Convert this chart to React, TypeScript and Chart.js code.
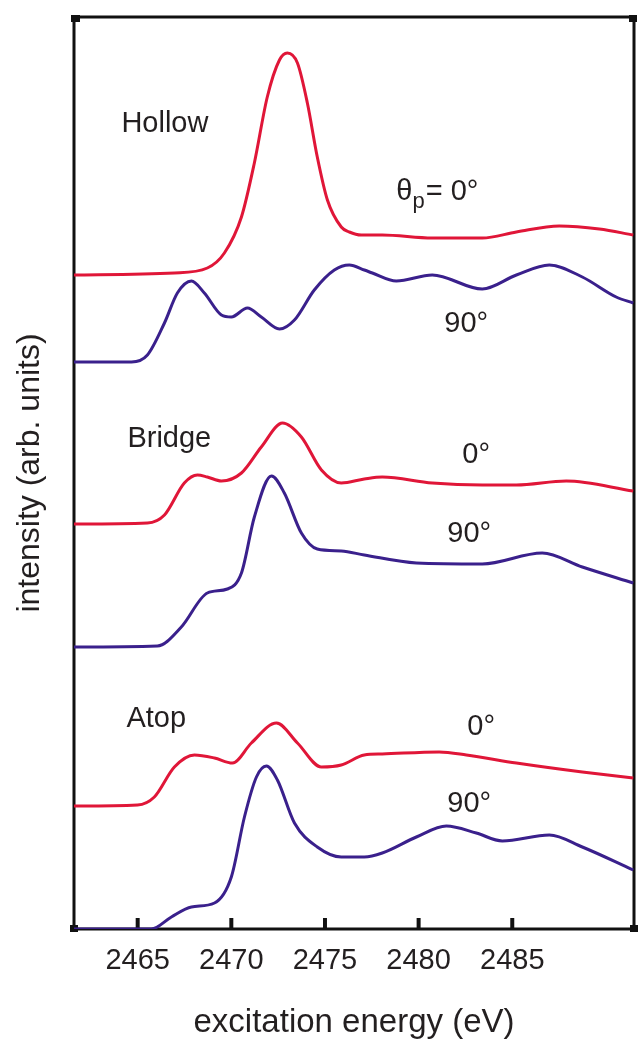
import { useEffect, useRef } from 'react';
import { Chart, registerables } from 'chart.js';

Chart.register(...registerables);

const RED = 'rgb(224, 22, 56)';
const BLUE = 'rgb(58, 32, 140)';
const TEXT = '#231f20';
const FAMILY = '"Liberation Sans", Arial, Helvetica, sans-serif';

// excitation energy (eV) / intensity (arb. units, stacked with offsets)
const hollow0E = [2461.6, 2466.96, 2468.72, 2469.63, 2470.54, 2471.23, 2471.92, 2472.57, 2472.99, 2473.53, 2474.06, 2474.59, 2475.13, 2475.87, 2476.3, 2476.94, 2478.06, 2480.73, 2483.4, 2485.22, 2487.51, 2489.65, 2491.46];
const hollow0I = [6.54, 6.56, 6.61, 6.76, 7.12, 7.66, 8.32, 8.69, 8.76, 8.66, 8.26, 7.72, 7.29, 7.02, 6.97, 6.94, 6.94, 6.91, 6.91, 6.97, 7.03, 7.0, 6.94];

const hollow90E = [2461.6, 2464.67, 2465.52, 2466.43, 2467.12, 2467.87, 2468.56, 2469.47, 2470.0, 2470.86, 2471.6, 2472.57, 2473.37, 2474.43, 2475.5, 2476.3, 2477.1, 2477.53, 2478.81, 2480.73, 2483.4, 2485.22, 2486.98, 2488.74, 2490.55, 2491.46];
const hollow90I = [5.67, 5.67, 5.74, 6.06, 6.36, 6.48, 6.36, 6.14, 6.12, 6.21, 6.12, 6.0, 6.09, 6.39, 6.59, 6.64, 6.59, 6.56, 6.48, 6.54, 6.4, 6.54, 6.64, 6.52, 6.32, 6.26];

const bridge0E = [2461.6, 2465.52, 2466.43, 2467.49, 2468.19, 2468.72, 2469.47, 2470.54, 2471.6, 2472.73, 2473.74, 2474.81, 2475.87, 2477.1, 2478.06, 2480.73, 2483.4, 2485.22, 2487.88, 2491.46];
const bridge0I = [4.05, 4.06, 4.14, 4.46, 4.54, 4.52, 4.48, 4.56, 4.82, 5.06, 4.92, 4.59, 4.46, 4.5, 4.52, 4.46, 4.44, 4.44, 4.48, 4.38];

const bridge90E = [2461.6, 2466.05, 2467.33, 2468.72, 2469.79, 2470.54, 2471.23, 2472.14, 2472.83, 2473.74, 2474.59, 2475.87, 2477.1, 2479.88, 2483.4, 2486.6, 2488.74, 2491.46];
const bridge90I = [2.82, 2.83, 3.02, 3.36, 3.4, 3.56, 4.12, 4.53, 4.36, 3.96, 3.8, 3.78, 3.74, 3.66, 3.65, 3.76, 3.62, 3.46];

const atop0E = [2461.6, 2464.99, 2465.89, 2466.96, 2468.03, 2469.1, 2470.06, 2471.07, 2472.41, 2473.53, 2474.81, 2475.87, 2477.1, 2478.06, 2481.1, 2482.55, 2485.22, 2488.74, 2491.46];
const atop0I = [1.23, 1.24, 1.32, 1.62, 1.74, 1.71, 1.66, 1.86, 2.06, 1.86, 1.62, 1.64, 1.74, 1.75, 1.77, 1.74, 1.66, 1.57, 1.51];

const atop90E = [2461.6, 2465.73, 2466.8, 2467.87, 2469.1, 2470.0, 2470.7, 2471.34, 2471.87, 2472.46, 2473.37, 2474.59, 2475.87, 2477.1, 2478.06, 2479.88, 2481.48, 2483.08, 2484.47, 2486.98, 2488.74, 2491.46];
const atop90I = [0, 0, 0.12, 0.22, 0.26, 0.52, 1.12, 1.52, 1.63, 1.49, 1.06, 0.82, 0.72, 0.72, 0.76, 0.92, 1.03, 0.96, 0.88, 0.94, 0.82, 0.59];

const xTicks = [2465, 2470, 2475, 2480, 2485];
const X_MIN = 2461.6;
const X_MAX = 2491.5;
const Y_MIN = 0;
const Y_MAX = 9.12;

// annotation text anchored in data coordinates (left edge, baseline)
const siteLabels = [
  { text: 'Hollow', e: 2464.13, i: 7.97 },
  { text: 'Bridge', e: 2464.45, i: 4.82 },
  { text: 'Atop', e: 2464.4, i: 2.02 },
];
const angleLabels = [
  { text: '90°', e: 2481.37, i: 5.97 },
  { text: '0°', e: 2482.33, i: 4.66 },
  { text: '90°', e: 2481.53, i: 3.87 },
  { text: '0°', e: 2482.6, i: 1.94 },
  { text: '90°', e: 2481.53, i: 1.17 },
];
const thetaLabel = { e: 2478.81, i: 7.29 };

const toPts = (E: number[], I: number[]) => E.map((x, k) => ({ x, y: I[k] }));

const series = [
  { label: 'Hollow 0°', E: hollow0E, I: hollow0I, color: RED },
  { label: 'Hollow 90°', E: hollow90E, I: hollow90I, color: BLUE },
  { label: 'Bridge 0°', E: bridge0E, I: bridge0I, color: RED },
  { label: 'Bridge 90°', E: bridge90E, I: bridge90I, color: BLUE },
  { label: 'Atop 0°', E: atop0E, I: atop0I, color: RED },
  { label: 'Atop 90°', E: atop90E, I: atop90I, color: BLUE },
];

const decorPlugin = {
  id: 'decor',
  beforeDatasetsDraw(chart: any) {
    const { ctx, chartArea: a } = chart;
    ctx.save();
    ctx.strokeStyle = '#111';
    ctx.lineWidth = 3;
    ctx.strokeRect(a.left, a.top, a.right - a.left, a.bottom - a.top);
    const xs = chart.scales.x;
    ctx.lineWidth = 4;
    for (const t of xTicks) {
      const px = xs.getPixelForValue(t);
      ctx.beginPath();
      ctx.moveTo(px, a.bottom);
      ctx.lineTo(px, a.bottom - 11);
      ctx.stroke();
    }
    ctx.fillStyle = '#111';
    ctx.fillRect(a.left - 3, a.top - 2, 9, 7);
    ctx.fillRect(a.right - 5, a.top - 2, 8, 7);
    ctx.fillRect(a.left - 4, a.bottom - 4, 8, 7);
    ctx.fillRect(a.right - 4, a.bottom - 4, 8, 7);
    ctx.restore();
  },
  afterDatasetsDraw(chart: any) {
    const { ctx } = chart;
    const xs = chart.scales.x;
    const ys = chart.scales.y;
    ctx.save();
    ctx.fillStyle = TEXT;
    ctx.textAlign = 'left';
    ctx.textBaseline = 'alphabetic';
    ctx.font = `29px ${FAMILY}`;
    for (const l of [...siteLabels, ...angleLabels]) {
      ctx.fillText(l.text, xs.getPixelForValue(l.e), ys.getPixelForValue(l.i));
    }
    // θp = 0°
    let x = xs.getPixelForValue(thetaLabel.e);
    const y = ys.getPixelForValue(thetaLabel.i);
    ctx.font = `29px ${FAMILY}`;
    ctx.fillText('θ', x, y);
    x += ctx.measureText('θ').width;
    ctx.font = `22px ${FAMILY}`;
    ctx.fillText('p', x, y + 8);
    x += ctx.measureText('p').width + 1;
    ctx.font = `29px ${FAMILY}`;
    ctx.fillText('= 0°', x, y);
    ctx.restore();
  },
};

export default function App() {
  const ref = useRef<HTMLCanvasElement | null>(null);

  useEffect(() => {
    if (!ref.current) return;
    const chart = new Chart(ref.current, {
      type: 'line',
      data: {
        datasets: series.map((s) => ({
          label: s.label,
          data: toPts(s.E, s.I),
          borderColor: s.color,
          backgroundColor: s.color,
          borderWidth: 3,
          pointRadius: 0,
          fill: false,
          cubicInterpolationMode: 'monotone' as const,
        })),
      },
      options: {
        responsive: false,
        animation: false,
        devicePixelRatio: 1,
        layout: { padding: { top: 17, right: 4, left: 0, bottom: 0 } },
        plugins: { legend: { display: false }, tooltip: { enabled: false } },
        scales: {
          x: {
            type: 'linear',
            min: X_MIN,
            max: X_MAX,
            afterBuildTicks: (s: any) => {
              s.ticks = xTicks.map((v) => ({ value: v }));
            },
            ticks: {
              callback: (v: any) => String(v),
              font: { size: 29, family: FAMILY },
              color: TEXT,
              padding: 15,
              maxRotation: 0,
              autoSkip: false,
            },
            grid: { display: false, drawTicks: false },
            border: { display: false },
            title: {
              display: true,
              text: 'excitation energy (eV)',
              font: { size: 33, family: FAMILY, lineHeight: 1 },
              color: TEXT,
              padding: { top: 0, bottom: 0 },
            },
            afterFit: (s: any) => {
              s.height = 110;
            },
          },
          y: {
            type: 'linear',
            min: Y_MIN,
            max: Y_MAX,
            ticks: { display: false },
            grid: { display: false, drawTicks: false },
            border: { display: false },
            title: {
              display: true,
              text: 'intensity (arb. units)',
              font: { size: 32, family: FAMILY, lineHeight: 1 },
              color: TEXT,
              padding: { top: 14, bottom: 0 },
            },
            afterFit: (s: any) => {
              s.width = 74;
            },
          },
        },
      },
      plugins: [decorPlugin],
    });
    return () => chart.destroy();
  }, []);

  return (
    <div style={{ position: 'absolute', left: 0, top: 0, width: 638, height: 1039, background: '#fff' }}>
      <canvas ref={ref} width={638} height={1039} style={{ display: 'block', width: 638, height: 1039 }} />
    </div>
  );
}
